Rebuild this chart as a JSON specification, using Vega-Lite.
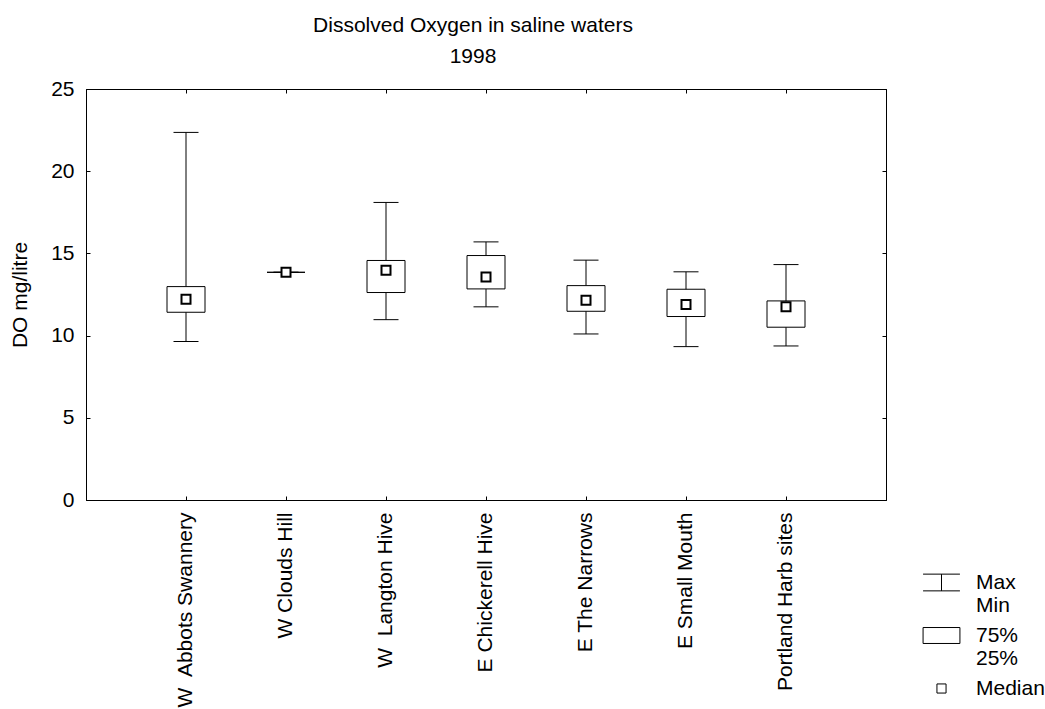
{
  "$schema": "https://vega.github.io/schema/vega-lite/v6.json",
  "width": 800,
  "height": 411,
  "autosize": {"type": "none"},
  "padding": {"left": 86, "top": 89, "right": 159, "bottom": 209},
  "background": "white",
  "config": {
    "font": "Liberation Sans",
    "view": {"stroke": "black", "strokeWidth": 1},
    "axis": {
      "labelFont": "Liberation Sans", "labelFontSize": 21, "labelColor": "black",
      "titleFont": "Liberation Sans", "titleFontSize": 21, "titleFontWeight": "normal", "titleColor": "black",
      "domainColor": "black", "tickColor": "black", "grid": false
    }
  },
  "title": {
    "text": "Dissolved Oxygen in saline waters",
    "subtitle": "1998",
    "font": "Liberation Sans", "subtitleFont": "Liberation Sans",
    "fontSize": 21, "fontWeight": "normal", "color": "black",
    "subtitleFontSize": 21, "subtitleColor": "black",
    "subtitlePadding": 10, "offset": 11, "anchor": "middle", "dx": -13
  },
  "data": {
    "values": [
      {"site": "W\u00a0 Abbots Swannery", "min": 9.64, "q1": 11.42, "median": 12.21, "q3": 12.98, "max": 22.36},
      {"site": "W Clouds Hill", "min": 13.85, "q1": 13.85, "median": 13.85, "q3": 13.85, "max": 13.85},
      {"site": "W\u00a0 Langton Hive", "min": 10.97, "q1": 12.62, "median": 13.98, "q3": 14.57, "max": 18.10},
      {"site": "E Chickerell Hive", "min": 11.75, "q1": 12.84, "median": 13.57, "q3": 14.87, "max": 15.70},
      {"site": "E The Narrows", "min": 10.10, "q1": 11.48, "median": 12.15, "q3": 13.04, "max": 14.59},
      {"site": "E Small Mouth", "min": 9.33, "q1": 11.16, "median": 11.89, "q3": 12.82, "max": 13.88},
      {"site": "Portland Harb sites", "min": 9.37, "q1": 10.51, "median": 11.75, "q3": 12.11, "max": 14.32}
    ]
  },
  "layer": [
    {
      "mark": {"type": "rule", "color": "black", "strokeWidth": 1},
      "encoding": {
        "x": {
          "field": "site", "type": "nominal", "sort": null,
          "scale": {"type": "band", "paddingInner": 0.62, "paddingOuter": 0.81,
            "domain": ["W\u00a0 Abbots Swannery", "W Clouds Hill", "W\u00a0 Langton Hive", "E Chickerell Hive", "E The Narrows", "E Small Mouth", "Portland Harb sites"]},
          "axis": {"orient": "bottom", "title": null, "labelAngle": -90, "tickSize": -4, "labelPadding": 16, "labelLimit": 400}
        },
        "y": {
          "field": "min", "type": "quantitative",
          "scale": {"domain": [0, 25], "nice": false, "zero": true},
          "axis": {"orient": "left", "title": "DO mg/litre", "values": [0, 5, 10, 15, 20, 25], "tickSize": -4, "labelPadding": 16, "titlePadding": 20}
        },
        "y2": {"field": "max"}
      }
    },
    {
      "mark": {"type": "tick", "color": "black", "thickness": 1, "size": 25, "opacity": 1},
      "encoding": {
        "x": {"field": "site", "type": "nominal", "sort": null, "axis": null},
        "y": {"field": "max", "type": "quantitative", "axis": null}
      }
    },
    {
      "mark": {"type": "tick", "color": "black", "thickness": 1, "size": 25, "opacity": 1},
      "encoding": {
        "x": {"field": "site", "type": "nominal", "sort": null, "axis": null},
        "y": {"field": "min", "type": "quantitative", "axis": null}
      }
    },
    {
      "mark": {"type": "bar", "fill": "white", "stroke": "black", "strokeWidth": 1, "opacity": 1},
      "encoding": {
        "x": {"field": "site", "type": "nominal", "sort": null, "axis": null},
        "y": {"field": "q1", "type": "quantitative", "axis": null},
        "y2": {"field": "q3"}
      }
    },
    {
      "mark": {"type": "point", "shape": "square", "size": 81, "filled": true, "fill": "white", "stroke": "black", "strokeWidth": 2, "opacity": 1},
      "encoding": {
        "x": {"field": "site", "type": "nominal", "sort": null, "axis": null},
        "y": {"field": "median", "type": "quantitative", "axis": null}
      }
    },
    {
      "transform": [{"fold": ["max", "q3", "median"], "as": ["key", "val"]}],
      "mark": {"type": "point", "opacity": 0},
      "encoding": {
        "x": {"field": "site", "type": "nominal", "sort": null,
          "axis": {"orient": "top", "title": null, "labels": false, "tickSize": -4}},
        "y": {"field": "val", "type": "quantitative",
          "axis": {"orient": "right", "title": null, "labels": false, "tickSize": -4, "values": [0, 5, 10, 15, 20, 25]}},
        "shape": {
          "field": "key", "type": "nominal",
          "scale": {
            "domain": ["max", "q3", "median"],
            "range": [
              "M-0.97,-0.44H0.97M0,-0.44V0.44M-0.97,0.44H0.97",
              "M-0.97,-0.42H0.97V0.42H-0.97Z",
              "M-0.24,-0.24H0.24V0.24H-0.24Z"
            ]
          },
          "legend": {
            "orient": "none", "legendX": 836, "legendY": 474, "direction": "vertical",
            "title": null, "padding": 0,
            "symbolSize": 1444, "symbolStrokeColor": "black", "symbolFillColor": "white",
            "symbolStrokeWidth": 1, "symbolOpacity": 1,
            "labelFont": "Liberation Sans", "labelFontSize": 21, "labelColor": "black",
            "labelOffset": 15, "rowPadding": 0,
            "labelExpr": "datum.value == 'max' ? ['Max', 'Min'] : datum.value == 'q3' ? ['75%', '25%'] : 'Median'"
          }
        }
      }
    }
  ],
  "resolve": {"axis": {"x": "independent", "y": "independent"}}
}
